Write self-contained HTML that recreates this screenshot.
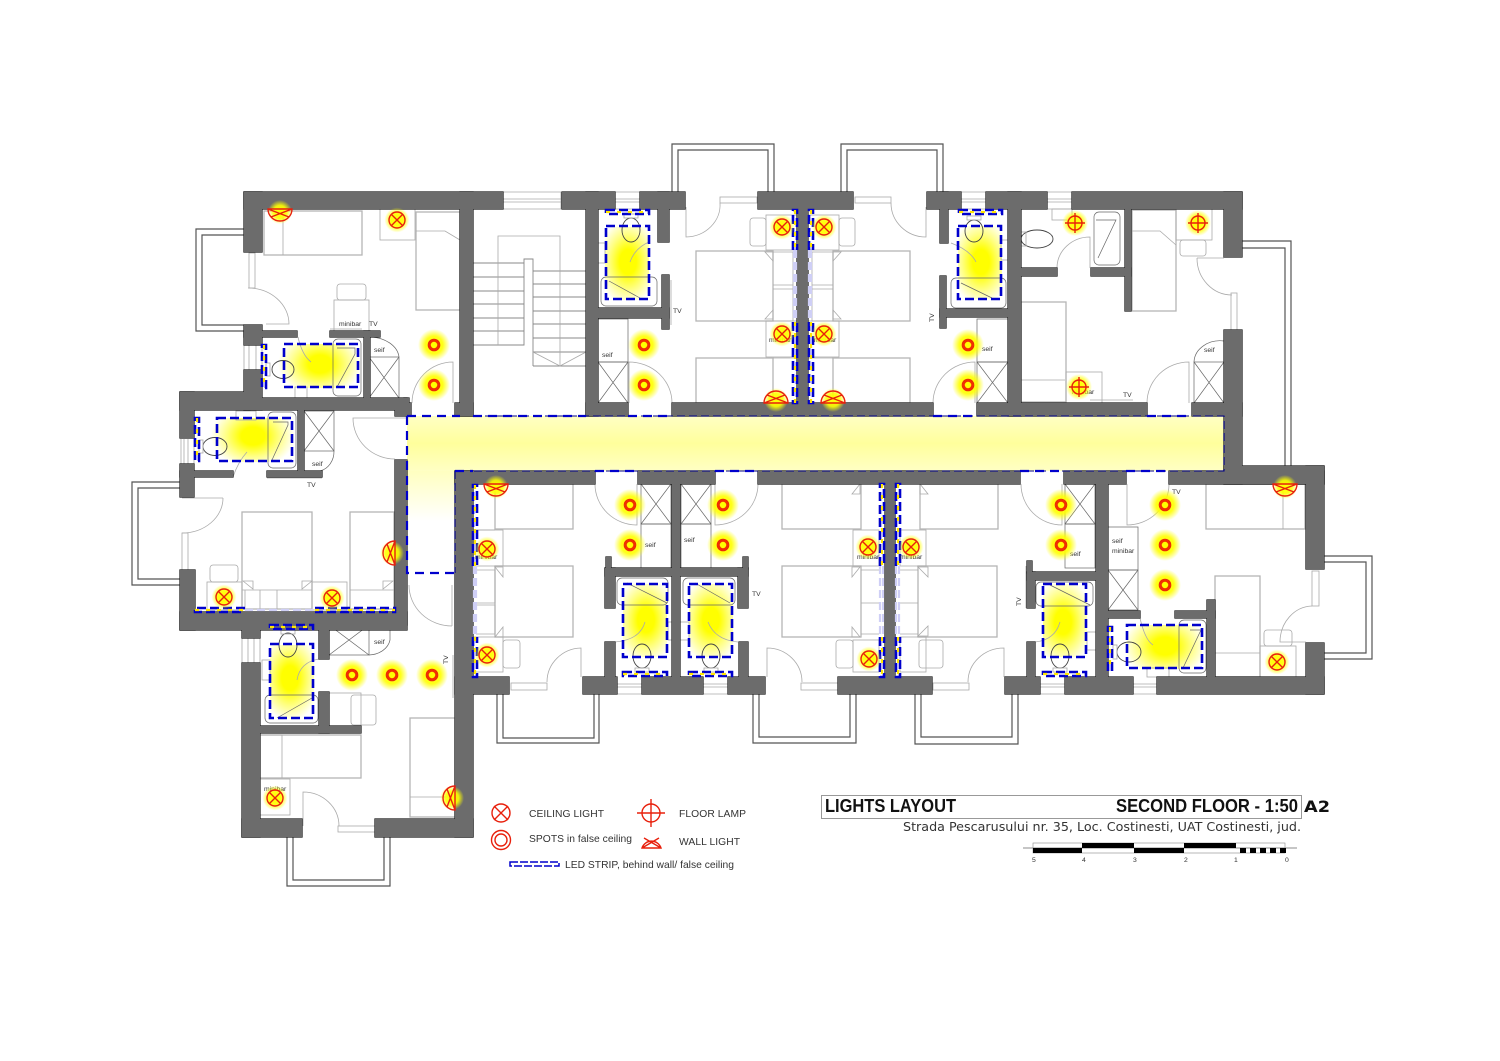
<!DOCTYPE html>
<html><head><meta charset="utf-8"><title>Lights Layout</title>
<style>
html,body{margin:0;padding:0;background:#fff}
svg{display:block}
text{font-family:"Liberation Sans",sans-serif;fill:#333;font-size:6.8px}
.f{fill:none;stroke:#aaa;stroke-width:.8}
.g{fill:none;stroke:#b5b5b5;stroke-width:1.3}
.d{fill:none;stroke:#666;stroke-width:.7}
.k{fill:none;stroke:#444;stroke-width:.9}
.bl{fill:none;stroke:#555;stroke-width:1.2}
.b{fill:none;stroke:#0000cc;stroke-width:2.6;stroke-dasharray:9 4}
.e{fill:none;stroke:#0000cc;stroke-width:2.2;stroke-dasharray:9 6}
.c{fill:none;stroke:#000088;stroke-width:1.1;stroke-dasharray:8 4}
.y{fill:none;stroke:#ffe600;stroke-width:2.2;stroke-dasharray:4 7}
.l{fill:none;stroke:#cfcff6;stroke-width:2.2;stroke-dasharray:8 4}
.r{fill:none;stroke:#e8200c;stroke-width:1.4}
.t{font-size:10.3px;fill:#333}
</style></head><body>
<svg width="1500" height="1061" viewBox="0 0 1500 1061" xmlns="http://www.w3.org/2000/svg">
<defs>
<radialGradient id="gl"><stop offset="0" stop-color="#ff0"/><stop offset=".55" stop-color="#ff0" stop-opacity=".9"/><stop offset="1" stop-color="#ff0" stop-opacity="0"/></radialGradient>
<radialGradient id="gb"><stop offset="0" stop-color="#ff0"/><stop offset=".28" stop-color="#ff0"/><stop offset=".62" stop-color="#ff0" stop-opacity=".5"/><stop offset="1" stop-color="#ff0" stop-opacity="0"/></radialGradient>
<linearGradient id="co" x1="0" y1="0" x2="0" y2="1"><stop offset="0" stop-color="#ffffc4"/><stop offset=".5" stop-color="#ffff9c"/><stop offset="1" stop-color="#ffffc4"/></linearGradient>
<linearGradient id="ce" x1="0" y1="0" x2="0" y2="1"><stop offset="0" stop-color="#ffffc0"/><stop offset="1" stop-color="#fff"/></linearGradient>
<g id="sp"><circle r="16" fill="url(#gl)"/><circle r="4.600" fill="#ff0" stroke="#f03000" stroke-width="2.700"/><circle r="6" fill="none" stroke="#e8200c" stroke-width=".6"/></g>
<g id="xx"><circle r="12.5" fill="url(#gl)"/><circle r="8" class="r"/><path class="r" d="M-6-6 6 6M-6 6 6-6"/></g>
<g id="fl"><circle r="13" fill="url(#gl)"/><circle r="7" class="r"/><path class="r" d="M-10 0H10M0-10V10"/></g>
<g id="wl"><ellipse cy="-3" rx="12" ry="12" fill="url(#gl)"/><path class="r" d="M-12 0H12A12 12 0 0 0-12 0ZM-12 0 9-8M12 0-9-8"/></g>
<g id="walls">
<rect x="244" y="192" width="259" height="17"/><rect x="244" y="192" width="18" height="60"/>
<rect x="460" y="192" width="13" height="224"/><rect x="455" y="403" width="18" height="13"/>
<rect x="244" y="325" width="18" height="20"/><rect x="244" y="331" width="53" height="6"/><rect x="330" y="331" width="50" height="6"/><rect x="364" y="331" width="6" height="67"/>
<rect x="244" y="370" width="18" height="40"/><rect x="180" y="392" width="70" height="18"/><rect x="244" y="398" width="163" height="12"/><rect x="395" y="403" width="16" height="13"/><rect x="404" y="398" width="5" height="10"/>
<rect x="180" y="392" width="14" height="46"/><rect x="180" y="464" width="14" height="33"/><rect x="180" y="471" width="53" height="6"/><rect x="267" y="471" width="55" height="6"/><rect x="298" y="410" width="6" height="61"/>
<rect x="395" y="460" width="12" height="165"/><rect x="180" y="612" width="227" height="18"/><rect x="180" y="570" width="15" height="60"/>
<rect x="242" y="625" width="18" height="13"/><rect x="242" y="663" width="18" height="174"/><rect x="242" y="819" width="60" height="18"/><rect x="375" y="819" width="98" height="18"/>
<rect x="455" y="471" width="18" height="366"/><rect x="319" y="625" width="10" height="34"/><rect x="319" y="692" width="10" height="41"/><rect x="260" y="726" width="101" height="7"/>
<rect x="562" y="192" width="53" height="17"/><rect x="640" y="192" width="45" height="17"/><rect x="758" y="192" width="95" height="17"/><rect x="927" y="192" width="34" height="17"/><rect x="986" y="192" width="61" height="17"/><rect x="1072" y="192" width="170" height="17"/>
<rect x="586" y="192" width="12" height="224"/><rect x="658" y="192" width="11" height="50"/><rect x="662" y="275" width="7" height="54"/><rect x="598" y="308" width="71" height="10"/>
<rect x="586" y="403" width="42" height="13"/><rect x="672" y="403" width="261" height="13"/><rect x="797" y="209" width="11" height="194"/>
<rect x="940" y="192" width="8" height="51"/><rect x="940" y="276" width="6" height="52"/><rect x="940" y="309" width="68" height="8"/><rect x="1008" y="192" width="13" height="224"/>
<rect x="1021" y="268" width="36" height="8"/><rect x="1091" y="268" width="40" height="8"/><rect x="1125" y="209" width="6" height="102"/>
<rect x="1224" y="192" width="18" height="65"/><rect x="1224" y="330" width="18" height="154"/><rect x="977" y="403" width="170" height="13"/><rect x="1192" y="403" width="50" height="13"/>
<rect x="455" y="471" width="140" height="13"/><rect x="638" y="471" width="77" height="13"/><rect x="758" y="471" width="262" height="13"/><rect x="1064" y="471" width="62" height="13"/><rect x="1169" y="471" width="155" height="13"/><rect x="1224" y="466" width="100" height="18"/>
<rect x="1306" y="466" width="18" height="103"/><rect x="1306" y="643" width="18" height="51"/><rect x="1157" y="677" width="167" height="17"/><rect x="1065" y="677" width="68" height="17"/><rect x="1005" y="677" width="35" height="17"/><rect x="838" y="677" width="94" height="17"/>
<rect x="885" y="484" width="10" height="193"/><rect x="672" y="484" width="8" height="193"/>
<rect x="606" y="557" width="5" height="12"/><rect x="605" y="568" width="143" height="8"/><rect x="743" y="557" width="5" height="12"/><rect x="605" y="568" width="10" height="40"/><rect x="738" y="568" width="10" height="40"/><rect x="605" y="642" width="10" height="35"/><rect x="739" y="642" width="9" height="35"/>
<rect x="455" y="677" width="54" height="17"/><rect x="583" y="677" width="34" height="17"/><rect x="642" y="677" width="61" height="17"/><rect x="728" y="677" width="37" height="17"/>
<rect x="1027" y="561" width="5" height="12"/><rect x="1027" y="572" width="69" height="8"/><rect x="1027" y="572" width="8" height="36"/><rect x="1027" y="642" width="8" height="35"/><rect x="1096" y="484" width="12" height="193"/>
<rect x="1108" y="611" width="32" height="7"/><rect x="1175" y="611" width="40" height="7"/><rect x="1207" y="600" width="8" height="77"/>
</g>
<clipPath id="c1"><rect x="265" y="344" width="95" height="44"/></clipPath>
<clipPath id="c2"><rect x="198" y="418" width="96" height="44"/></clipPath>
<clipPath id="c3"><rect x="270" y="645" width="44" height="74"/></clipPath>
<clipPath id="c4"><rect x="605" y="227" width="44" height="73"/></clipPath>
<clipPath id="c5"><rect x="958" y="226" width="44" height="73"/></clipPath>
<clipPath id="c6"><rect x="623" y="584" width="44" height="73"/></clipPath>
<clipPath id="c7"><rect x="689" y="584" width="44" height="73"/></clipPath>
<clipPath id="c8"><rect x="1043" y="584" width="44" height="73"/></clipPath>
<clipPath id="c9"><rect x="1127" y="625" width="75" height="44"/></clipPath>
</defs>
<rect width="1500" height="1061" fill="#fff"/>

<!-- corridor -->
<rect x="407" y="416" width="818" height="55" fill="url(#co)"/>
<rect x="407" y="471" width="48" height="50" fill="url(#ce)"/>

<!-- bathroom glow -->
<ellipse cx="320" cy="364" rx="42" ry="32" fill="url(#gb)" clip-path="url(#c1)"/>
<ellipse cx="253" cy="436" rx="42" ry="32" fill="url(#gb)" clip-path="url(#c2)"/>
<ellipse cx="290" cy="678" rx="30" ry="44" fill="url(#gb)" clip-path="url(#c3)"/>
<ellipse cx="628" cy="262" rx="30" ry="44" fill="url(#gb)" clip-path="url(#c4)"/>
<ellipse cx="981" cy="262" rx="30" ry="44" fill="url(#gb)" clip-path="url(#c5)"/>
<ellipse cx="646" cy="620" rx="30" ry="44" fill="url(#gb)" clip-path="url(#c6)"/>
<ellipse cx="711" cy="620" rx="30" ry="44" fill="url(#gb)" clip-path="url(#c7)"/>
<ellipse cx="1063" cy="622" rx="30" ry="44" fill="url(#gb)" clip-path="url(#c8)"/>
<ellipse cx="1165" cy="646" rx="42" ry="32" fill="url(#gb)" clip-path="url(#c9)"/>

<!-- balconies -->
<path class="bl" d="M244 229H196V331H244M244 235H202V325H244"/>
<path class="bl" d="M180 482H132V585H180M180 488H138V579H180"/>
<path class="bl" d="M287 837V886H390V837M293 837V880H384V837"/>
<path class="bl" d="M672 192V144H774V192M678 192V150H768V192"/>
<path class="bl" d="M841 192V144H943V192M847 192V150H937V192"/>
<path class="bl" d="M1242 241H1291V466M1242 248H1285V466"/>
<path class="bl" d="M1324 556H1372V659H1324M1324 562H1366V653H1324"/>
<path class="bl" d="M497 694V743H599V694M503 694V738H594V694"/>
<path class="bl" d="M753 694V743H856V694M759 694V737H850V694"/>
<path class="bl" d="M915 694V744H1018V694M921 694V737H1012V694"/>

<!-- stairs -->
<path class="k" style="stroke:#888" d="M473 263H524M473 277H524M473 291H524M473 304H524M473 318H524M473 331H524M473 345H524V259H533V366M533 271H586M533 284H586M533 297H586M533 311H586M533 324H586M533 338H586M533 352H586M533 366H586"/>
<path class="f" d="M498 345V236H560V366M533 352 560 366 586 352"/>

<!-- windows -->
<g class="f">
<path d="M503 192V209M561 192V209M503 199H561M503 202H561M503 192H561M503 209H561"/>
<path d="M615 192V209M640 192V209M615 199H640M615 202H640M615 192H640M615 209H640"/>
<path d="M961 192H986M961 209H986M961 199H986M961 202H986"/>
<path d="M1047 192H1072M1047 209H1072M1047 199H1072M1047 202H1072"/>
<path d="M249 345V370M256 345V370M244 345V370M262 345V370"/>
<path d="M184 439V464M188 439V464M181 439V464M194 439V464"/>
<path d="M248 638V663M254 638V663M242 638V663M260 638V663"/>
<path d="M617 677V694H642V677M617 684H642M617 687H642"/>
<path d="M703 677V694H728V677M703 684H728M703 687H728"/>
<path d="M1040 677V694H1065V677M1040 684H1065M1040 687H1065"/>
<path d="M1133 677V694H1157V677M1133 684H1157M1133 687H1157"/>
<rect x="249" y="253" width="6" height="35"/><rect x="182" y="533" width="6" height="37"/><rect x="1231" y="293" width="6" height="37"/><rect x="1312" y="571" width="7" height="35"/>
<rect x="720" y="197" width="37" height="6"/><rect x="855" y="197" width="36" height="6"/><rect x="338" y="826" width="37" height="6"/>
<rect x="511" y="683" width="36" height="7"/><rect x="801" y="683" width="37" height="7"/><rect x="933" y="683" width="36" height="7"/>
</g>

<!-- doors -->
<g class="f">
<path d="M248 288A41 36 0 0 1 289 324H266"/><path d="M453 403V362A41 41 0 0 0 412 403"/>
<path d="M223 498A41 35 0 0 1 182 533M182 498H223"/><path d="M407 418H353A42 41 0 0 0 395 459"/>
<path d="M303 826V792A36 34 0 0 1 339 826"/><path d="M452 626V585M409 585A43 41 0 0 0 452 626"/>
<path d="M686 207V237A35 32 0 0 0 720 203"/><path d="M926 207V237A35 34 0 0 1 891 203"/>
<path d="M629 403V362A43 41 0 0 1 672 403"/><path d="M975 403V362A42 41 0 0 0 933 403"/>
<path d="M1189 403V362A42 41 0 0 0 1147 403"/><path d="M1197 258A35 37 0 0 0 1232 295M1197 258H1224"/>
<path d="M1057 268A33 31 0 0 1 1090 237V268"/>
<path d="M637 484V525A42 41 0 0 1 595 484"/><path d="M715 484V525A43 41 0 0 0 758 484"/>
<path d="M581 677V648A35 34 0 0 0 547 682"/><path d="M767 677V648A35 34 0 0 1 802 682"/><path d="M1004 677V648A36 34 0 0 0 968 682"/>
<path d="M1062 484V525A41 41 0 0 1 1021 484"/><path d="M1127 484V525A42 41 0 0 0 1169 484"/>
<path d="M1312 606A33 36 0 0 0 1280 642H1306"/>
<!-- bath doors -->
<path d="M298 337Q302 355 311 362M233 477Q238 462 247 452M319 659Q300 662 297 680M649 242Q635 248 630 262M951 243Q970 250 976 262M615 642Q640 640 645 622M738 642Q715 640 708 622M1035 642Q1055 640 1060 622M1140 618Q1145 640 1153 645"/>
</g>

<!-- beds -->
<g class="g">
<rect x="264" y="211" width="98" height="44"/><rect x="416" y="212" width="44" height="98"/>
<rect x="242" y="512" width="70" height="97"/><rect x="350" y="512" width="44" height="97"/>
<rect x="260" y="735" width="101" height="43"/><rect x="410" y="718" width="45" height="99"/>
<rect x="696" y="251" width="77" height="70"/><rect x="833" y="251" width="77" height="70"/>
<rect x="696" y="358" width="77" height="45"/><rect x="833" y="358" width="77" height="45"/>
<rect x="1132" y="210" width="44" height="101"/><rect x="1021" y="302" width="45" height="100"/>
<rect x="495" y="484" width="78" height="45"/><rect x="495" y="566" width="78" height="71"/>
<rect x="782" y="484" width="79" height="45"/><rect x="782" y="566" width="79" height="71"/>
<rect x="920" y="484" width="78" height="45"/><rect x="918" y="566" width="79" height="71"/>
<rect x="1206" y="484" width="99" height="45"/><rect x="1215" y="576" width="45" height="101"/>
</g>
<g class="f">
<path d="M283 211V255M416 231H445L460 240M242 590H312M245 590V609M350 590H394M260 590V609M260 590 273 590M277 590V609M260 735H282V778M410 797H455"/>
<path d="M773 252H793V321H773M833 252H812V321H833M773 285H793M812 285H833M773 289H793M812 289H833M773 358H797V403M833 358H808V403"/>
<path d="M1132 231H1160L1176 245M1021 380H1065M473 530H495M476 570H495V603H476M476 605H495V634H476M861 570H879M861 603H879M861 634H879M900 570H918M900 603H918M900 634H918M861 484H879M920 484H900M1283 484V529M1215 653H1260"/>
<path d="M243 581 253 589V581ZM312 581 302 589V581ZM393 581 383 589V581ZM765 252 773 261V252ZM765 319 773 310V319ZM841 252 833 261V252ZM841 319 833 310V319ZM495 567 503 577V567ZM495 637 503 627V637ZM860 567 852 577V567ZM860 637 852 627V637ZM918 567 928 577V567ZM918 636 928 626V636ZM860 484 852 494H860ZM920 484 928 494H920Z"/>
<rect x="380" y="209" width="35" height="31"/><rect x="334" y="300" width="35" height="31"/><rect x="337" y="284" width="29" height="16" rx="3"/>
<rect x="207" y="582" width="35" height="28"/><rect x="312" y="582" width="35" height="28"/><rect x="210" y="565" width="28" height="17" rx="3"/>
<rect x="260" y="779" width="30" height="36"/><rect x="329" y="693" width="32" height="33"/><rect x="351" y="695" width="25" height="30" rx="3"/>
<rect x="766" y="215" width="31" height="35"/><rect x="750" y="218" width="16" height="28" rx="3"/><rect x="766" y="321" width="31" height="36"/>
<rect x="808" y="215" width="31" height="35"/><rect x="839" y="218" width="16" height="28" rx="3"/><rect x="808" y="321" width="31" height="36"/>
<rect x="473" y="530" width="30" height="36"/><rect x="473" y="637" width="30" height="35"/><rect x="503" y="640" width="17" height="28" rx="3"/>
<rect x="853" y="530" width="26" height="36"/><rect x="853" y="640" width="26" height="32"/><rect x="836" y="640" width="17" height="28" rx="3"/>
<rect x="900" y="530" width="26" height="36"/><rect x="900" y="637" width="26" height="35"/><rect x="919" y="640" width="24" height="28" rx="3"/>
<rect x="1176" y="209" width="36" height="31"/><rect x="1180" y="240" width="26" height="16" rx="3"/><rect x="1066" y="372" width="36" height="31"/>
<rect x="1260" y="646" width="36" height="31"/><rect x="1264" y="630" width="28" height="16" rx="3"/>
<rect x="295" y="387" width="12" height="11"/><rect x="236" y="411" width="20" height="9"/><rect x="262" y="660" width="8" height="20"/><rect x="598" y="243" width="7" height="20"/><rect x="1001" y="240" width="7" height="20"/><rect x="1052" y="209" width="20" height="11"/><rect x="668" y="622" width="4" height="18"/><rect x="680" y="622" width="9" height="18"/><rect x="1087" y="632" width="9" height="18"/><rect x="1147" y="668" width="22" height="9"/>
<path d="M1090 400H1133M453 655V698M455 655V698M669 280V325M1026 566V608M671 280V325M267 478H322M330 329H362"/>
</g>

<!-- tubs, seif boxes -->
<g class="d">
<rect x="333" y="339" width="28" height="57" rx="5"/><path d="M337 348H355V354L337 387"/>
<rect x="268" y="412" width="28" height="56" rx="5"/><path d="M273 422H288V425L272 460"/>
<rect x="265" y="695" width="53" height="28" rx="5"/><path d="M277 718 312 698"/>
<rect x="601" y="277" width="56" height="29" rx="5"/><path d="M609 281 640 298"/>
<rect x="951" y="278" width="55" height="30" rx="5"/><path d="M961 283 992 298"/>
<rect x="617" y="578" width="51" height="27" rx="5"/><path d="M627 583 667 603"/>
<rect x="683" y="578" width="52" height="27" rx="5"/><path d="M695 583 730 603"/>
<rect x="1036" y="582" width="57" height="24" rx="5"/><path d="M1050 585 1090 605"/>
<rect x="1179" y="620" width="27" height="53" rx="5"/><path d="M1183 668 1201 630H1190"/>
<rect x="1094" y="212" width="26" height="53" rx="5"/><path d="M1096 220H1116L1098 258"/>
<rect x="369" y="357" width="30" height="41"/><path d="M369 357 399 398M399 357 369 398M370 357V337A30 22 0 0 1 399 357"/>
<rect x="304" y="411" width="30" height="40"/><path d="M304 411 334 451M334 411 304 451M304 451V471H320A18 20 0 0 0 334 451"/>
<rect x="329" y="625" width="40" height="30"/><path d="M329 625 369 655M369 625 329 655M369 625H390V640A22 18 0 0 1 369 655"/>
<rect x="598" y="319" width="30" height="43"/><rect x="598" y="362" width="30" height="41"/><path d="M598 362 628 403M628 362 598 403"/>
<rect x="977" y="319" width="31" height="43"/><rect x="977" y="362" width="31" height="41"/><path d="M977 362 1008 403M1008 362 977 403"/>
<rect x="1194" y="362" width="30" height="41"/><path d="M1194 362 1224 403M1224 362 1194 403M1194 362A26 22 0 0 1 1224 341"/>
<rect x="641" y="484" width="30" height="40"/><rect x="641" y="524" width="30" height="44"/><path d="M641 484 671 524M671 484 641 524"/>
<rect x="681" y="484" width="30" height="40"/><rect x="681" y="524" width="30" height="44"/><path d="M681 484 711 524M711 484 681 524"/>
<rect x="1065" y="484" width="30" height="40"/><rect x="1065" y="524" width="30" height="44"/><path d="M1065 484 1095 524M1095 484 1065 524"/>
<rect x="1108" y="527" width="30" height="43"/><rect x="1108" y="570" width="30" height="40"/><path d="M1108 570 1138 610M1138 570 1108 610"/>
</g>

<!-- toilets -->
<g class="k">
<ellipse cx="283" cy="369.500" rx="11" ry="9"/><ellipse cx="215" cy="446.500" rx="12" ry="9"/><ellipse cx="288" cy="645" rx="9" ry="12"/>
<ellipse cx="631" cy="230" rx="9" ry="12"/><ellipse cx="974" cy="231" rx="9" ry="11"/><ellipse cx="1037" cy="239" rx="16" ry="9"/>
<ellipse cx="642" cy="656" rx="9" ry="12"/><ellipse cx="711" cy="656" rx="9" ry="12"/><ellipse cx="1060" cy="656" rx="9" ry="12"/><ellipse cx="1129" cy="652" rx="12" ry="10"/>
</g>
<g class="f">
<rect x="266" y="363" width="4" height="13"/><rect x="199" y="440" width="4" height="13"/><rect x="281" y="630" width="14" height="4"/><rect x="624" y="214" width="14" height="4"/><rect x="967" y="216" width="14" height="4"/><rect x="1021" y="232" width="5" height="14"/><rect x="635" y="668" width="14" height="4"/><rect x="704" y="668" width="14" height="4"/><rect x="1053" y="668" width="14" height="4"/><rect x="1113" y="645" width="4" height="14"/>
</g>

<!-- walls -->
<use href="#walls" fill="#222" stroke="#222" stroke-width="1.3"/>
<use href="#walls" fill="#6c6c6c"/>

<!-- corridor dashes -->
<path class="c" d="M473 416H1224V471H473M455 471V573"/>
<path class="e" d="M407 416H460M473 416H586M628 416H672M933 416H977M1147 416H1192M407 416V573H455"/>
<path class="e" d="M455 471H473M595 471H638M715 471H758M1020 471H1064M1126 471H1169"/>

<!-- LED strips -->
<rect class="b" x="284" y="344" width="74" height="43"/><rect class="b" x="262" y="345" width="4" height="43"/><path class="y" d="M264 345V388"/>
<rect class="b" x="217" y="418" width="75" height="43"/><rect class="b" x="195" y="418" width="4" height="43"/><path class="y" d="M197 418V461"/>
<rect class="b" x="270" y="644" width="43" height="74"/><rect class="b" x="270" y="625" width="43" height="4"/><path class="y" d="M270 627H313"/>
<rect class="b" x="606" y="226" width="43" height="73"/><rect class="b" x="606" y="210" width="43" height="4"/><path class="y" d="M606 212H649"/>
<rect class="b" x="958" y="226" width="43" height="73"/><rect class="b" x="959" y="210" width="43" height="4"/><path class="y" d="M959 212H1002"/>
<rect class="b" x="623" y="584" width="44" height="73"/><rect class="b" x="623" y="672" width="44" height="4"/><path class="y" d="M623 674H667"/>
<rect class="b" x="689" y="584" width="43" height="73"/><rect class="b" x="689" y="672" width="43" height="4"/><path class="y" d="M689 674H732"/>
<rect class="b" x="1043" y="584" width="43" height="73"/><rect class="b" x="1043" y="672" width="43" height="4"/><path class="y" d="M1043 674H1086"/>
<rect class="b" x="1127" y="625" width="75" height="43"/><rect class="b" x="1108" y="627" width="4" height="44"/><path class="y" d="M1110 627V671"/>

<path class="l" d="M245 610H315M794 250V322M796 250V322M809 250V322M811 250V322M474 566V637M476 566V637M880 566V637M883 566V637M896 566V637M899 566V637"/>
<path class="b" d="M245 608H195V612H245M315 608H395V612H315M793 250V210H797V250M793 322V403H797V322M809 250V210H813V250M809 322V403H813V322"/>
<path class="y" d="M195 610H245M315 610H395M795 210V250M795 322V403M811 210V250M811 322V403"/>
<path class="b" d="M473 566V485H477V566M473 637V677H477V637M880 566V484H884V566M880 637V677H884V637M896 566V484H900V566M896 637V677H900V637"/>
<path class="y" d="M475 485V566M475 637V677M882 484V566M882 637V677M898 484V566M898 637V677"/>

<!-- labels -->
<text x="339" y="326">minibar</text><text x="369" y="326">TV</text><text x="374" y="352">seif</text>
<text x="307" y="487">TV</text><text x="312" y="466">seif</text><text x="374" y="644">seif</text>
<text transform="translate(448,664) rotate(-90)">TV</text><text x="264" y="791">minibar</text>
<text x="602" y="357">seif</text><text x="673" y="313">TV</text><text x="769" y="342">minibar</text><text x="814" y="342">minibar</text>
<text transform="translate(934,322) rotate(-90)">TV</text><text x="982" y="351">seif</text>
<text x="1204" y="352">seif</text><text x="1123" y="397">TV</text><text x="1072" y="394">minibar</text>
<text x="475" y="559">minibar</text><text x="645" y="547">seif</text><text x="684" y="542">seif</text><text x="752" y="596">TV</text>
<text x="857" y="559">minibar</text><text x="900" y="559">minibar</text><text x="1070" y="556">seif</text>
<text transform="translate(1021,606) rotate(-90)">TV</text><text x="1112" y="543">seif</text><text x="1112" y="553">minibar</text><text x="1172" y="494">TV</text>

<!-- lights -->
<use href="#wl" transform="translate(280,209) scale(1,-1)"/>
<use href="#wl" transform="translate(776,403)"/>
<use href="#wl" transform="translate(833,403)"/>
<use href="#wl" transform="translate(496,484) scale(1,-1)"/>
<use href="#wl" transform="translate(1285,484) scale(1,-1)"/>
<use href="#wl" transform="translate(395,553) rotate(-90)"/>
<use href="#wl" transform="translate(455,798) rotate(-90)"/>
<use href="#xx" x="397" y="220"/><use href="#xx" x="782" y="227"/><use href="#xx" x="824" y="227"/><use href="#xx" x="782" y="334"/><use href="#xx" x="824" y="334"/>
<use href="#xx" x="224" y="597"/><use href="#xx" x="332" y="598"/><use href="#xx" x="487" y="549"/><use href="#xx" x="487" y="655"/><use href="#xx" x="868" y="547"/><use href="#xx" x="911" y="547"/><use href="#xx" x="869" y="659"/><use href="#xx" x="275" y="798"/><use href="#xx" x="1277" y="662"/>
<use href="#sp" x="434" y="345"/><use href="#sp" x="434" y="385"/><use href="#sp" x="644" y="345"/><use href="#sp" x="644" y="385"/><use href="#sp" x="968" y="345"/><use href="#sp" x="968" y="385"/>
<use href="#sp" x="630" y="505"/><use href="#sp" x="630" y="545"/><use href="#sp" x="723" y="505"/><use href="#sp" x="723" y="545"/><use href="#sp" x="1061" y="505"/><use href="#sp" x="1061" y="545"/>
<use href="#sp" x="1165" y="505"/><use href="#sp" x="1165" y="545"/><use href="#sp" x="1165" y="585"/><use href="#sp" x="352" y="675"/><use href="#sp" x="392" y="675"/><use href="#sp" x="432" y="675"/>
<use href="#fl" x="1075" y="223"/><use href="#fl" x="1198" y="223"/><use href="#fl" x="1079" y="387"/>

<!-- legend -->
<g class="r"><circle cx="501" cy="813" r="9"/><path d="M494 806 508 820M494 820 508 806"/></g>
<g class="r"><circle cx="501" cy="840" r="9.500"/><circle cx="501" cy="840" r="6"/></g>
<g class="r"><circle cx="651" cy="813" r="9"/><path d="M637 813H665M651 799V827"/></g>
<path class="r" d="M642 848H661A10 10 0 0 0 642 848ZM642 848 659 838M661 848 644 838"/>
<text class="t" x="529" y="817" textLength="75">CEILING LIGHT</text>
<text class="t" x="529" y="842" textLength="103">SPOTS in false ceiling</text>
<text class="t" x="679" y="817" textLength="67">FLOOR LAMP</text>
<text class="t" x="679" y="845" textLength="61">WALL LIGHT</text>
<text class="t" x="565" y="868" textLength="169">LED STRIP, behind wall/ false ceiling</text>
<rect x="510" y="862" width="49" height="4" fill="none" stroke="#0000cc" stroke-width="1.5" stroke-dasharray="8 2"/>

<!-- title -->
<rect x="821.500" y="795.500" width="480" height="23" fill="none" stroke="#999" stroke-width="1"/>
<text x="825" y="812" textLength="131" lengthAdjust="spacingAndGlyphs" style="font-size:18px;font-weight:bold;fill:#111">LIGHTS LAYOUT</text>
<text x="1116" y="812" textLength="182" lengthAdjust="spacingAndGlyphs" style="font-size:18px;font-weight:bold;fill:#111">SECOND FLOOR - 1:50</text>
<text x="1304" y="812" textLength="26" lengthAdjust="spacingAndGlyphs" style="font-family:'DejaVu Sans',sans-serif;font-size:16px;font-weight:bold;fill:#111">A2</text>
<text x="903" y="831" textLength="398" lengthAdjust="spacingAndGlyphs" style="font-family:'DejaVu Sans',sans-serif;font-size:12.500px;fill:#333">Strada Pescarusului nr. 35, Loc. Costinesti, UAT Costinesti, jud.</text>

<!-- scale -->
<path d="M1023 848H1297" stroke="#666" stroke-width=".8"/>
<rect x="1033" y="843" width="252" height="10" fill="none" stroke="#888" stroke-width=".6"/>
<g fill="#000">
<rect x="1033" y="848" width="49" height="5"/><rect x="1082" y="843" width="52" height="5"/><rect x="1134" y="848" width="50" height="5"/><rect x="1184" y="843" width="52" height="5"/>
<rect x="1240" y="848" width="6" height="5"/><rect x="1250" y="848" width="6" height="5"/><rect x="1260" y="848" width="6" height="5"/><rect x="1270" y="848" width="6" height="5"/><rect x="1280" y="848" width="6" height="5"/>
</g>
<text x="1032" y="862">5</text><text x="1082" y="862">4</text><text x="1133" y="862">3</text><text x="1184" y="862">2</text><text x="1234" y="862">1</text><text x="1285" y="862">0</text>
</svg>
</body></html>
